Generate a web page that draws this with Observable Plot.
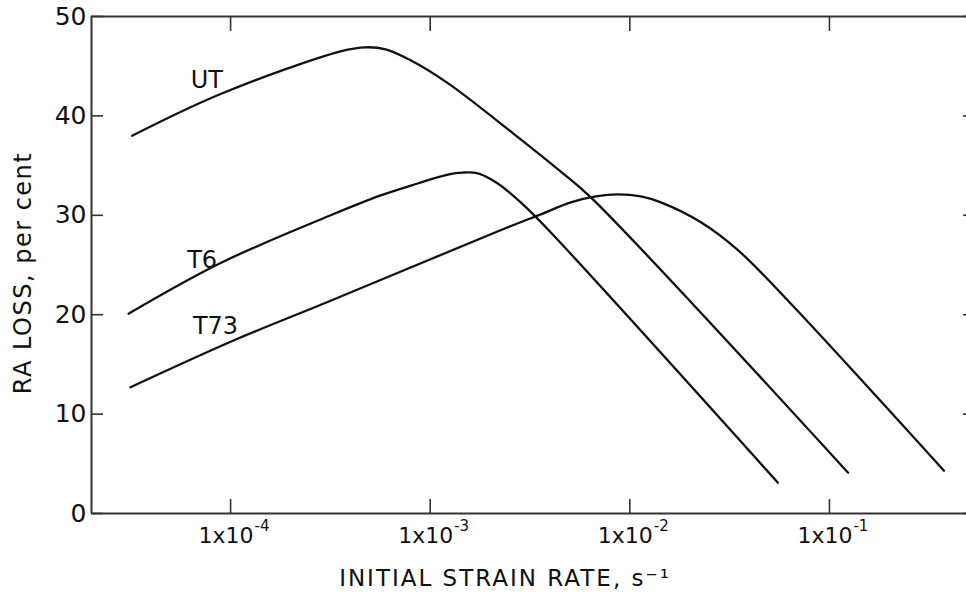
<!DOCTYPE html>
<html>
<head>
<meta charset="utf-8">
<script src="https://cdn.jsdelivr.net/npm/d3@7"></script>
<script src="https://cdn.jsdelivr.net/npm/@observablehq/plot@0.6"></script>
<style>
  html, body { margin: 0; padding: 0; background: #fff; }
  #chart svg { display: block; }
  #chart text[aria-label="x-title"] { letter-spacing: 2px; }
  #chart text[aria-label="y-title"] { letter-spacing: 1.5px; }
</style>
</head>
<body>
<div id="chart"></div>
<script>
// ---- data ----
const seriesNames = ["UT", "T6", "T73"];

const utRate = [3.21e-5, 8.91e-5, 3.56e-4, 4.75e-4, 5.98e-4, 7.98e-4, 1.225e-3, 2.62e-3, 4.51e-3, 6.38e-3, 0.124];
const utLoss = [38.0, 42.2, 46.5, 46.9, 46.7, 45.6, 43.3, 38.2, 34.4, 31.8, 4.1];

const t6Rate = [3.08e-5, 8.91e-5, 3.17e-4, 5.65e-4, 8.65e-4, 1.225e-3, 1.455e-3, 1.75e-3, 2.18e-3, 2.84e-3, 3.88e-3, 5.52e-2];
const t6Loss = [20.1, 25.2, 30.0, 32.0, 33.2, 34.1, 34.3, 34.2, 33.2, 31.3, 28.6, 3.1];

const t73Rate = [3.15e-5, 1.035e-4, 3.17e-4, 2.25e-3, 3.58e-3, 5.06e-3, 6.76e-3, 8.71e-3, 1.135e-2, 1.43e-2, 2.27e-2, 3.48e-2, 6.41e-2, 0.375];
const t73Loss = [12.7, 17.4, 21.4, 28.5, 30.1, 31.3, 31.9, 32.1, 31.9, 31.3, 29.3, 26.5, 21.1, 4.3];

// curve labels (anchored in data space)
const labelRate = [7.6e-5, 7.2e-5, 8.4e-5];
const labelLoss = [43.6, 25.5, 18.8];

// axes
const xDomain = [2.01e-5, 0.486];
const yDomain = [0, 50];
const xTickValues = [1e-4, 1e-3, 1e-2, 1e-1];
const xTickBase = "1x10";
const xTickExponents = ["-4", "-3", "-2", "-1"];
const yTickValues = [0, 10, 20, 30, 40, 50];
const xTitle = "INITIAL STRAIN RATE, s\u207B\u00B9";
const yTitle = "RA LOSS, per cent";

// ---- build table ----
const rows = [];
[[utRate, utLoss], [t6Rate, t6Loss], [t73Rate, t73Loss]].forEach(([r, l], k) => {
  r.forEach((v, i) => rows.push({series: seriesNames[k], rate: v, loss: l[i]}));
});

const ink = "#111";
const axisInk = "#333";

const chart = Plot.plot({
  width: 966,
  height: 595,
  marginLeft: 91,
  marginRight: 0,
  marginTop: 16,
  marginBottom: 82,
  style: {fontFamily: "'DejaVu Sans', sans-serif", background: "#fff", color: ink},
  x: {type: "log", domain: xDomain},
  y: {domain: yDomain},
  marks: [
    Plot.ruleY([yDomain[0], yDomain[1]], {stroke: axisInk, strokeWidth: 2}),
    Plot.ruleX([xDomain[0]], {stroke: axisInk, strokeWidth: 2}),
    Plot.axisY(yTickValues, {anchor: "left", tickSize: -12, tickPadding: 17, fontSize: 25, label: null, stroke: axisInk, strokeWidth: 1.6}),
    Plot.axisY(yTickValues, {anchor: "right", tickSize: -4, tickFormat: () => "", label: null, stroke: axisInk, strokeWidth: 1.6}),
    Plot.axisX(xTickValues, {anchor: "bottom", tickSize: -14, tickFormat: () => "", label: null, stroke: axisInk, strokeWidth: 1.6}),
    Plot.axisX(xTickValues, {anchor: "top", tickSize: -14, tickFormat: () => "", label: null, stroke: axisInk, strokeWidth: 1.6}),
    Plot.text(xTickValues, {x: d => d, text: () => xTickBase, frameAnchor: "bottom", textAnchor: "end", lineAnchor: "middle", dx: 23, dy: 22, fontSize: 22, fill: ink}),
    Plot.text(xTickValues, {x: d => d, text: (d, i) => xTickExponents[i], frameAnchor: "bottom", textAnchor: "start", lineAnchor: "middle", dx: 24, dy: 13, fontSize: 15, fill: ink}),
    Plot.text([xTitle], {text: d => d, frameAnchor: "bottom", textAnchor: "middle", lineAnchor: "middle", dx: -24, dy: 65, fontSize: 23, fill: ink, ariaLabel: () => "x-title"}),
    Plot.text([yTitle], {text: d => d, frameAnchor: "left", textAnchor: "middle", lineAnchor: "middle", rotate: -90, dx: -68, dy: 8, fontSize: 24, fill: ink, ariaLabel: () => "y-title"}),
    Plot.line(rows, {x: "rate", y: "loss", z: "series", stroke: ink, strokeWidth: 2.3, curve: "catmull-rom"}),
    Plot.text(seriesNames, {x: (d, i) => labelRate[i], y: (d, i) => labelLoss[i], text: d => d, fontSize: 24, fill: ink})
  ]
});

document.getElementById("chart").appendChild(chart);
</script>
</body>
</html>
